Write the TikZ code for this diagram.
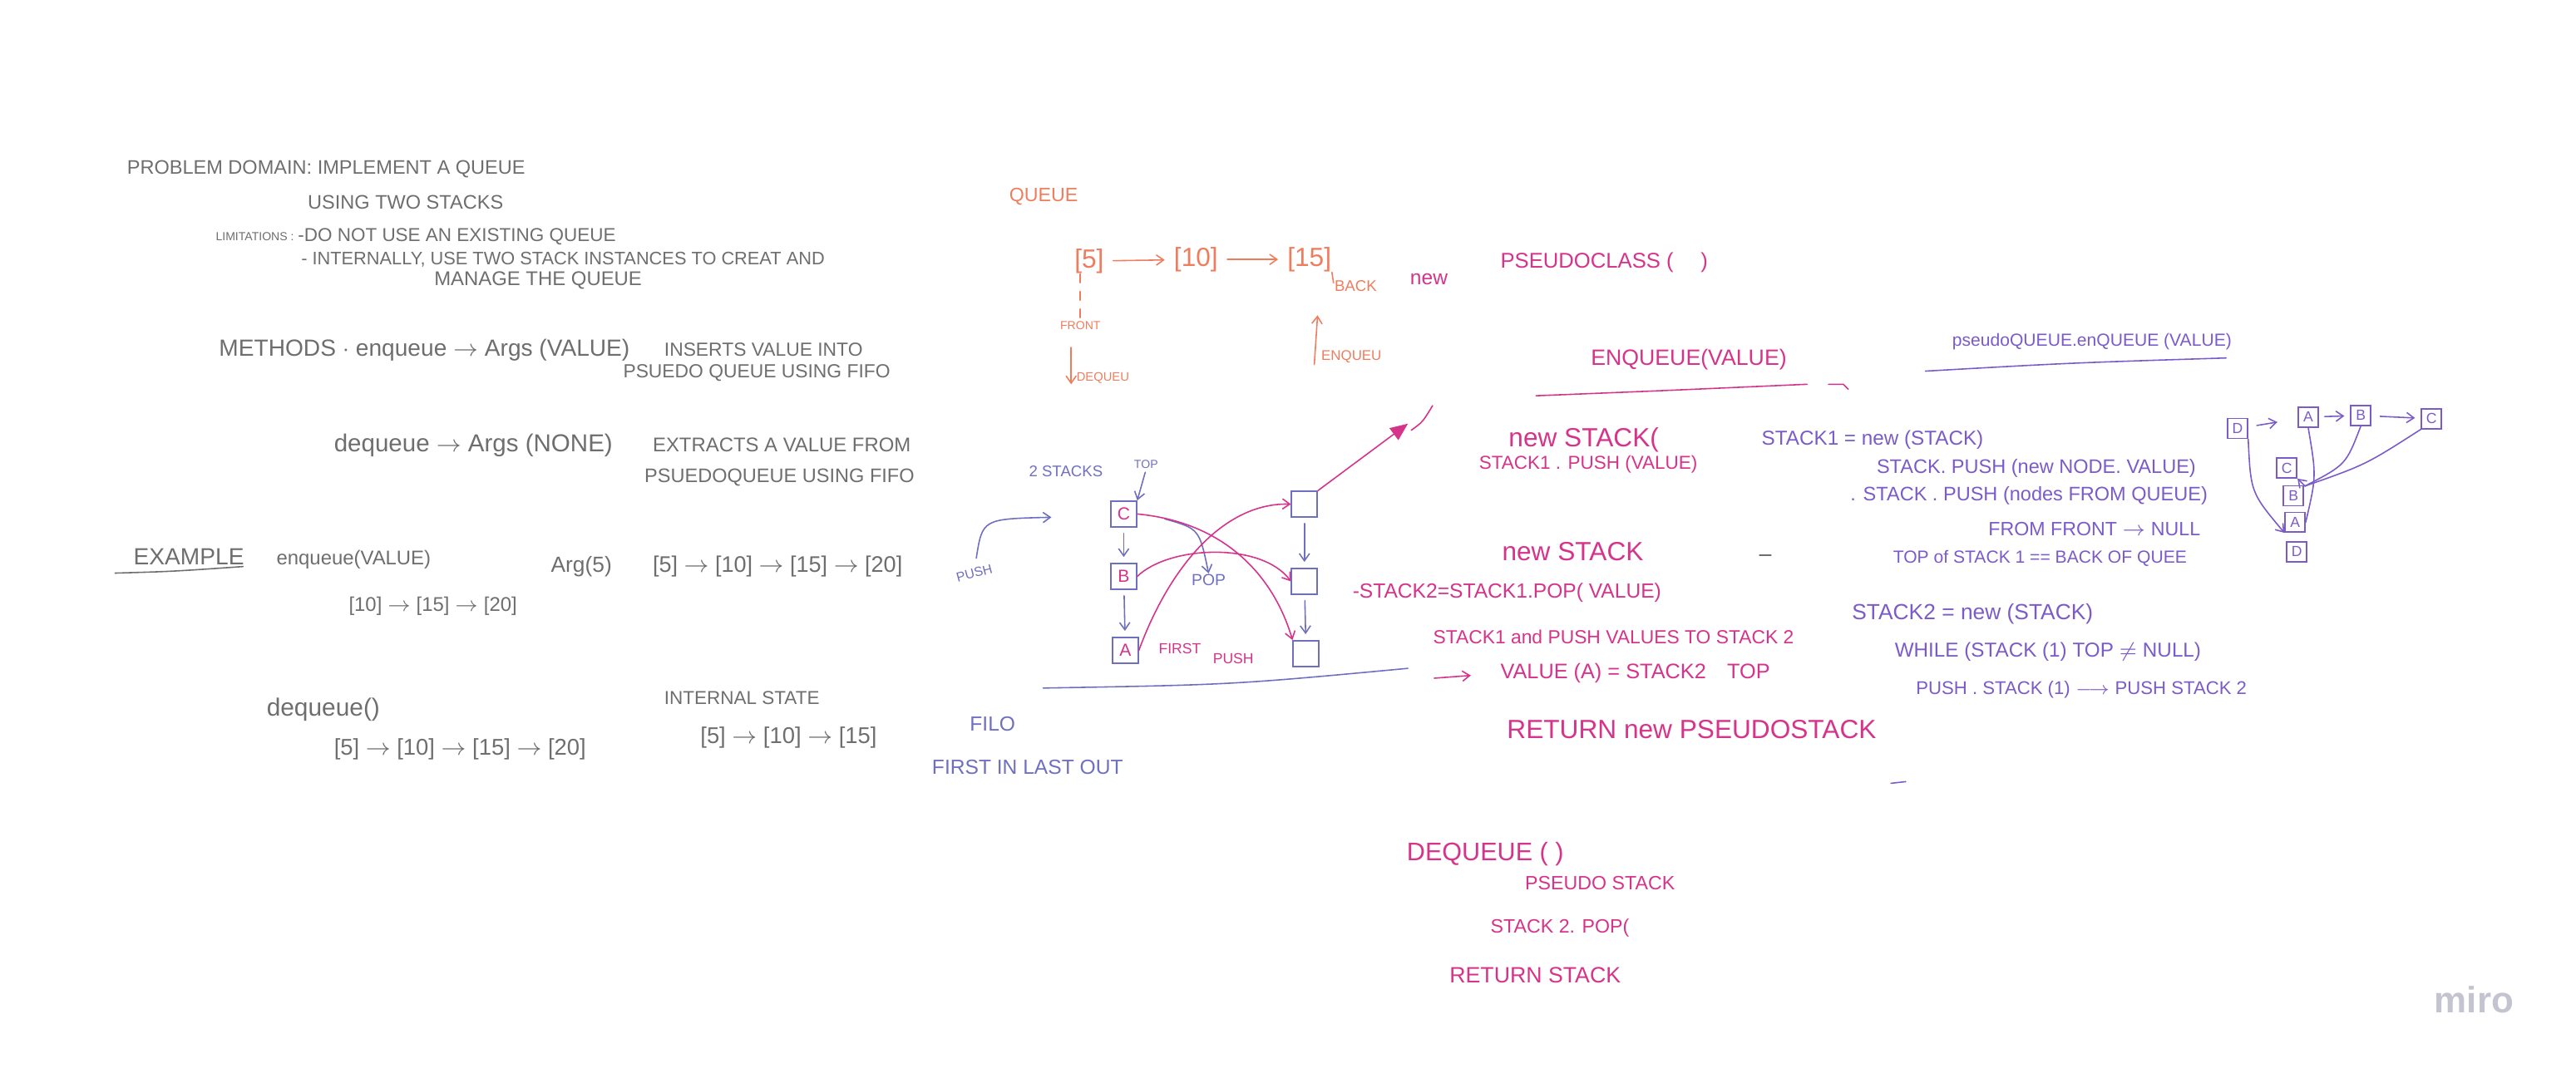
\documentclass[tikz,border=0pt]{standalone}
\usepackage{fontspec}
\setmainfont{Liberation Sans}
\definecolor{MIROgray}{HTML}{6E6E6E}
\definecolor{MIROorange}{HTML}{EE7D5E}
\definecolor{MIROpink}{HTML}{D6338A}
\definecolor{MIROblue}{HTML}{6F6FC0}
\definecolor{MIROpurple}{HTML}{7A5BC9}
\definecolor{MIROlogo}{HTML}{C4C4D0}
\usetikzlibrary{arrows.meta}

\begin{document}
\begin{tikzpicture}[x=0.1976mm, y=-0.1976mm,
      txt/.style={inner sep=0pt, anchor=west, font=\fontsize{#1}{#1}\selectfont},
      ink/.style={line width=0.45pt, line cap=round},
      tip/.style={-{Straight Barb[length=2.5pt, width=3.5pt]}},
      cell/.style={draw, ink, MIROblue, text=MIROpink, minimum size=3.1mm, inner sep=0pt, font=\fontsize{6}{6}\selectfont},
      fbox/.style={draw, ink, MIROpurple, minimum size=2.4mm, inner sep=0pt, font=\fontsize{5}{5}\selectfont},
      qbox/.style={inner sep=0pt, MIROorange, font=\fontsize{9}{9}\selectfont}]
      \useasboundingbox (0,0) rectangle (1568,653);
      % Problem domain
      \node[txt=6.7, MIROgray] (pd) at (77,103) {PROBLEM DOMAIN: IMPLEMENT A QUEUE};
      \node[txt=6.7, MIROgray] (two) at (187,123) {USING TWO STACKS};
      \node[txt=4, MIROgray] (lim) at (131,144) {LIMITATIONS :};
      \node[txt=6.4, MIROgray] (lim1) at (181,144) {-DO NOT USE AN EXISTING QUEUE};
      \node[txt=6.2, MIROgray] (lim2) at (183,158) {- INTERNALLY, USE TWO STACK INSTANCES TO CREAT AND};
      \node[txt=6.8, MIROgray] (lim3) at (264,171) {MANAGE THE QUEUE};
      % Methods
      \node[txt=8, MIROgray] (meth) at (133,213) {METHODS $\cdot$ enqueue $\rightarrow$ Args (VALUE)};
      \node[txt=6.5, MIROgray] (ins1) at (404,213) {INSERTS VALUE INTO};
      \node[txt=6.5, MIROgray] (ins2) at (379,227) {PSUEDO QUEUE USING FIFO};
      \node[txt=8.4, MIROgray] (deq) at (203,271) {dequeue $\rightarrow$ Args (NONE)};
      \node[txt=6.8, MIROgray] (ext1) at (397,271) {EXTRACTS A VALUE FROM};
      \node[txt=6.7, MIROgray] (ext2) at (392,291) {PSUEDOQUEUE USING FIFO};
      % Example
      \node[txt=8, MIROgray] (ex) at (81,339) {EXAMPLE};
      \draw[ink, MIROgray] (70,349) .. controls (105,348) .. (148,345);
      \node[txt=6.8, MIROgray] (exenq) at (168,341) {enqueue(VALUE)};
      \node[txt=7.5, MIROgray] (arg) at (335,345) {Arg(5)};
      \node[txt=7.7, MIROgray] (ch1) at (397,345) {[5] $\rightarrow$ [10] $\rightarrow$ [15] $\rightarrow$ [20]};
      \node[txt=6.8, MIROgray] (ch2) at (212,369) {[10] $\rightarrow$ [15] $\rightarrow$ [20]};
      \node[txt=8.5, MIROgray] (exdeq) at (162,432) {dequeue()};
      \node[txt=7.8, MIROgray] (ch3) at (203,456) {[5] $\rightarrow$ [10] $\rightarrow$ [15] $\rightarrow$ [20]};
      \node[txt=6.4, MIROgray] (ist) at (404,425) {INTERNAL STATE};
      \node[txt=7.8, MIROgray] (ch4) at (426,449) {[5] $\rightarrow$ [10] $\rightarrow$ [15]};
      % Queue (orange)
      \node[txt=6.6, MIROorange] (qt) at (614,120) {QUEUE};
      \node[qbox] (q5) at (663,159) {[5]};
      \node[qbox] (q10) at (728,158) {[10]};
      \node[qbox] (q15) at (797,158) {[15]};
      \draw[ink, tip, MIROorange, shorten <=3pt, shorten >=3pt] (q5) -- (q10);
      \draw[ink, tip, MIROorange, shorten <=3pt, shorten >=3pt] (q10) -- (q15);
      \node[txt=5.3, MIROorange] (back) at (812,174) {BACK};
      \draw[ink, MIROorange, shorten <=1pt] (back.west) -- (q15.south east);
      \node[txt=4, MIROorange] (front) at (645,198) {FRONT};
      \draw[ink, MIROorange, dashed] (q5.south -| front.north) -- (front.north);
      \node[txt=4.2, MIROorange] (deqq) at (655,230) {DEQUEU};
      \coordinate (dqtip) at (652,234);
      \draw[ink, tip, MIROorange, shorten <=6pt] (front.south -| dqtip) -- (dqtip);
      \node[txt=4.8, MIROorange] (enqq) at (804,217) {ENQUEU};
      \coordinate (enqtail) at (800,222);
      \coordinate (enqtip) at (802,192);
      \draw[ink, tip, MIROorange] (enqtail) -- (enqtip);
      % Pseudo class (pink)
      \node[txt=7, MIROpink] (new) at (858,170) {new};
      \node[txt=7.3, MIROpink] (pclass) at (913,160) {PSEUDOCLASS (\quad\ )};
      \node[txt=7.6, MIROpink] (enqv) at (968,219) {ENQUEUE(VALUE)};
      \draw[ink, MIROpink] (935,241) .. controls (1010,238) .. (1100,234);
      \draw[ink, MIROpink] (1113,234) -- (1122,234) -- (1125,237);
      \node[txt=9, MIROpink] (ns1) at (918,268) {new STACK(};
      \node[txt=6.4, MIROpink] (s1p) at (900,283) {STACK1 . PUSH (VALUE)};
      \node[txt=9, MIROpink] (ns2) at (914,336) {new STACK};
      \node[txt=7, MIROpink] (s2eq) at (823,361) {-STACK2=STACK1.POP( VALUE)};
      \node[txt=6.5, MIROpink] (s1and) at (872,388) {STACK1 and PUSH VALUES TO STACK 2};
      \node[txt=7.2, MIROpink] (valA) at (913,410) {VALUE (A) = STACK2\quad TOP};
      \coordinate (valtail) at (873,413);
      \draw[ink, tip, MIROpink, shorten >=10pt] (valtail) -- (valA.west);
      \node[txt=9, MIROpink] (ret) at (917,444) {RETURN new PSEUDOSTACK};
      \node[txt=8.7, MIROpink] (deqh) at (856,520) {DEQUEUE ( )};
      \node[txt=6.6, MIROpink] (pst) at (928,538) {PSEUDO STACK};
      \node[txt=6.6, MIROpink] (s2pop) at (907,565) {STACK 2. POP(};
      \node[txt=7.6, MIROpink] (retst) at (882,594) {RETURN STACK};
      % Two stacks (blue)
      \node[txt=5.3, MIROblue] (two2) at (626,287) {2 STACKS};
      \node[txt=4, MIROblue] (top) at (690,283) {TOP};
      \node[cell] (cC) at (684,313) {C};
      \node[cell] (cB) at (684,351) {B};
      \node[cell] (cA) at (685,396) {A};
      \node[cell] (r1) at (794,307) {};
      \node[cell] (r2) at (794,354) {};
      \node[cell] (r3) at (795,398) {};
      \draw[ink, tip, MIROblue, shorten <=1pt] (top.south) -- (cC.north east);
      \draw[ink, tip, MIROblue, shorten <=2pt, shorten >=2pt] (cC) -- (cB);
      \draw[ink, tip, MIROblue, shorten <=2pt, shorten >=2pt] (cB) -- (cA);
      \draw[ink, tip, MIROblue, shorten <=2pt, shorten >=2pt] (r1) -- (r2);
      \draw[ink, tip, MIROblue, shorten <=2pt, shorten >=2pt] (r2) -- (r3);
      \node[txt=4.5, MIROblue, rotate=15] (pushl) at (582,352) {PUSH};
      \coordinate (pushtip) at (640,315);
      \draw[ink, tip, MIROblue] (pushl.north) ++(2,-6) .. controls (598,316) .. (pushtip);
      \node[txt=5.5, MIROblue] (pop) at (725,353) {POP};
      \coordinate (popfrom) at (709,316);
      \draw[ink, tip, MIROblue] (popfrom) .. controls (730,322) .. (pop.north);
      \node[txt=5, MIROpink] (first) at (705,395) {FIRST};
      \node[txt=5, MIROpink] (pushr) at (738,401) {PUSH};
      \draw[ink, tip, MIROpink] (cC.east) .. controls (745,318) and (775,350) .. (r3.north west);
      \draw[ink, tip, MIROpink] (cB.east) .. controls (712,332) and (768,330) .. (r2.west);
      \draw[ink, tip, MIROpink] (cA.east) .. controls (712,345) and (745,306) .. (r1.west);
      \coordinate (hatch) at (857,258);
      \draw[ink, MIROpink, -{Triangle[length=6pt, width=5pt]}] (r1.north east) -- (hatch);
      \draw[ink, MIROpink] (hatch) ++(2,4) .. controls (866,257) .. (872,247);
      \draw[ink, MIROblue] (635,419) .. controls (750,417) .. (857,407);
      \node[txt=7, MIROblue] (filo) at (590,441) {FILO};
      \node[txt=7, MIROblue] (fil) at (567,467) {FIRST IN LAST OUT};
      % Pseudo queue enqueue (purple)
      \node[txt=6, MIROpurple] (pqe) at (1188,208) {pseudoQUEUE.enQUEUE (VALUE)};
      \draw[ink, MIROpurple] (1172,226) .. controls (1260,221) .. (1355,218);
      \node[txt=6.9, MIROpurple] (st1) at (1072,268) {STACK1 = new (STACK)};
      \node[txt=6.7, MIROpurple] (stp1) at (1142,285) {STACK. PUSH (new NODE. VALUE)};
      \node[txt=6.7, MIROpurple] (stp2) at (1126,302) {. STACK . PUSH (nodes FROM QUEUE)};
      \node[txt=6.6, MIROpurple] (ffn) at (1210,322) {FROM FRONT $\rightarrow$ NULL};
      \node[txt=6, MIROpurple] (tos) at (1152,340) {TOP of STACK 1 == BACK OF QUEE};
      \draw[ink, MIROgray] (1071,338) -- (1078,338);
      \node[txt=7.5, MIROpurple] (st2) at (1127,374) {STACK2 = new (STACK)};
      \node[txt=6.9, MIROpurple] (whl) at (1153,397) {WHILE (STACK (1) TOP $\neq$ NULL)};
      \node[txt=6.3, MIROpurple] (psh) at (1166,420) {PUSH . STACK (1) $\longrightarrow$ PUSH STACK 2};
      \draw[ink, MIROpurple] (1151,477) -- (1160,476);
      % Nodes into stack
      \node[fbox] (fD) at (1362,261) {D};
      \node[fbox] (fA) at (1405,254) {A};
      \node[fbox] (fB) at (1437,253) {B};
      \node[fbox] (fC) at (1480,255) {C};
      \node[fbox] (sC) at (1392,285) {C};
      \node[fbox] (sB) at (1396,302) {B};
      \node[fbox] (sA) at (1397,318) {A};
      \node[fbox] (sD) at (1398,336) {D};
      \draw[ink, tip, MIROpurple, shorten <=3pt, shorten >=7pt] (fD) -- (fA);
      \draw[ink, tip, MIROpurple, shorten <=2pt, shorten >=2pt] (fA) -- (fB);
      \draw[ink, tip, MIROpurple, shorten <=3pt, shorten >=2pt] (fB) -- (fC);
      \draw[ink, tip, MIROpurple] (fD.south east) .. controls (1370,300) .. (sA.south west);
      \draw[ink, MIROpurple] (fA.south) .. controls (1410,290) .. (sA.east);
      \coordinate (merge) at (1403,296);
      \draw[ink, MIROpurple] (fB.south) .. controls (1428,283) .. (merge);
      \draw[ink, MIROpurple] (fC.south west) .. controls (1440,283) .. (merge);
      \draw[ink, tip, MIROpurple] (merge) -- (sC.south east);
      % Logo
      \node[font=\fontsize{12.5}{12.5}\selectfont\bfseries, text=MIROlogo] (logo) at (1506,609) {miro};
   \end{tikzpicture}
\end{document}
